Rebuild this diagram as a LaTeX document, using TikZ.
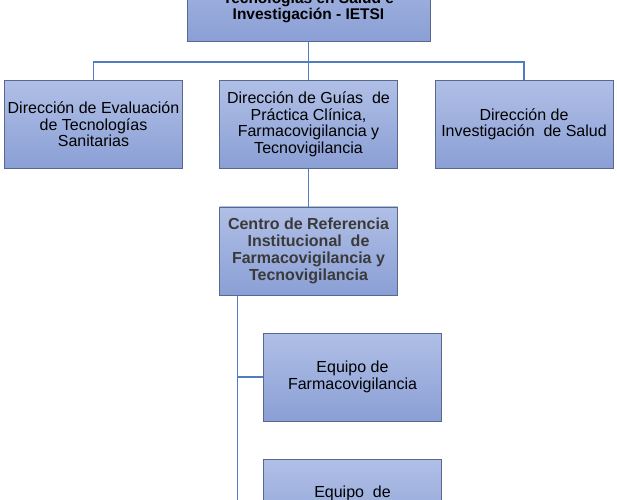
\documentclass[tikz,border=0pt]{standalone}
\usepackage{fontspec}
\setmainfont{Liberation Sans}
\definecolor{boxtop}{HTML}{B0BFE6}
\definecolor{boxbot}{HTML}{8A9FD5}
\definecolor{boxedge}{HTML}{5A6890}
\definecolor{linkblue}{HTML}{4F7DC0}
\definecolor{boldtext}{HTML}{3A3A3A}
\tikzset{
  orgbox/.style={draw=boxedge, line width=0.9bp, top color=boxtop, bottom color=boxbot,
    minimum width=178bp, minimum height=88bp, inner sep=1bp, align=center,
    font=\fontsize{16bp}{16.5bp}\selectfont, text=black},
  boldbox/.style={orgbox, font=\fontsize{16bp}{17bp}\selectfont\bfseries, text=boldtext},
  link/.style={draw=linkblue, line width=1.1bp},
  lbl/.style={font=\fontsize{16bp}{16.5bp}\selectfont, text=black, inner sep=0pt}
}
\begin{document}
\begin{tikzpicture}[x=1bp, y=-1bp]
\useasboundingbox (0,0) rectangle (617,500);
\clip (0,0) rectangle (617,500);
% top box (extends above the view)
\node[boldbox, minimum width=243bp, minimum height=100bp, text=black, anchor=south] (top) at (308.5,42) {};
\node[lbl, font=\fontsize{15.5bp}{16.5bp}\selectfont\bfseries, align=center, anchor=base] (toptxt) at (308.5,20) {Tecnologías en Salud e\\Investigación - IETSI};
% second row
\node[orgbox] (d1) at (93.5,124.5) {Dirección de Evaluación\\de Tecnologías\\Sanitarias};
\node[orgbox] (d2) at (308.5,124.5) {Dirección de Guías\ \ de\\Práctica Clínica,\\Farmacovigilancia y\\Tecnovigilancia};
\node[orgbox] (d3) at (524,124.5) {Dirección de\\Investigación\ \ de Salud};
% centre
\node[boldbox] (c) at (308.5,251) {Centro de Referencia\\Institucional\ \ de\\Farmacovigilancia y\\Tecnovigilancia};
% teams
\node[orgbox] (e1) at (352.5,377) {Equipo de\\Farmacovigilancia};
\node[orgbox, anchor=north] (e2) at (352.5,459) {};
\node[lbl, anchor=base] (e2txt) at (352.5,497) {Equipo\ \ de};
% connectors
\coordinate (bar) at (308.5,62);
\draw[link] (top.south) -- (d2.north);
\draw[link] (d1.north) |- (bar) -| (d3.north);
\draw[link] (d2.south) -- (c.north);
\coordinate (trunk) at (237.5,520);
\draw[link] (c.south -| trunk) -- (trunk);
\draw[link] (e1.west -| trunk) -- (e1.west);
\end{tikzpicture}
\end{document}
